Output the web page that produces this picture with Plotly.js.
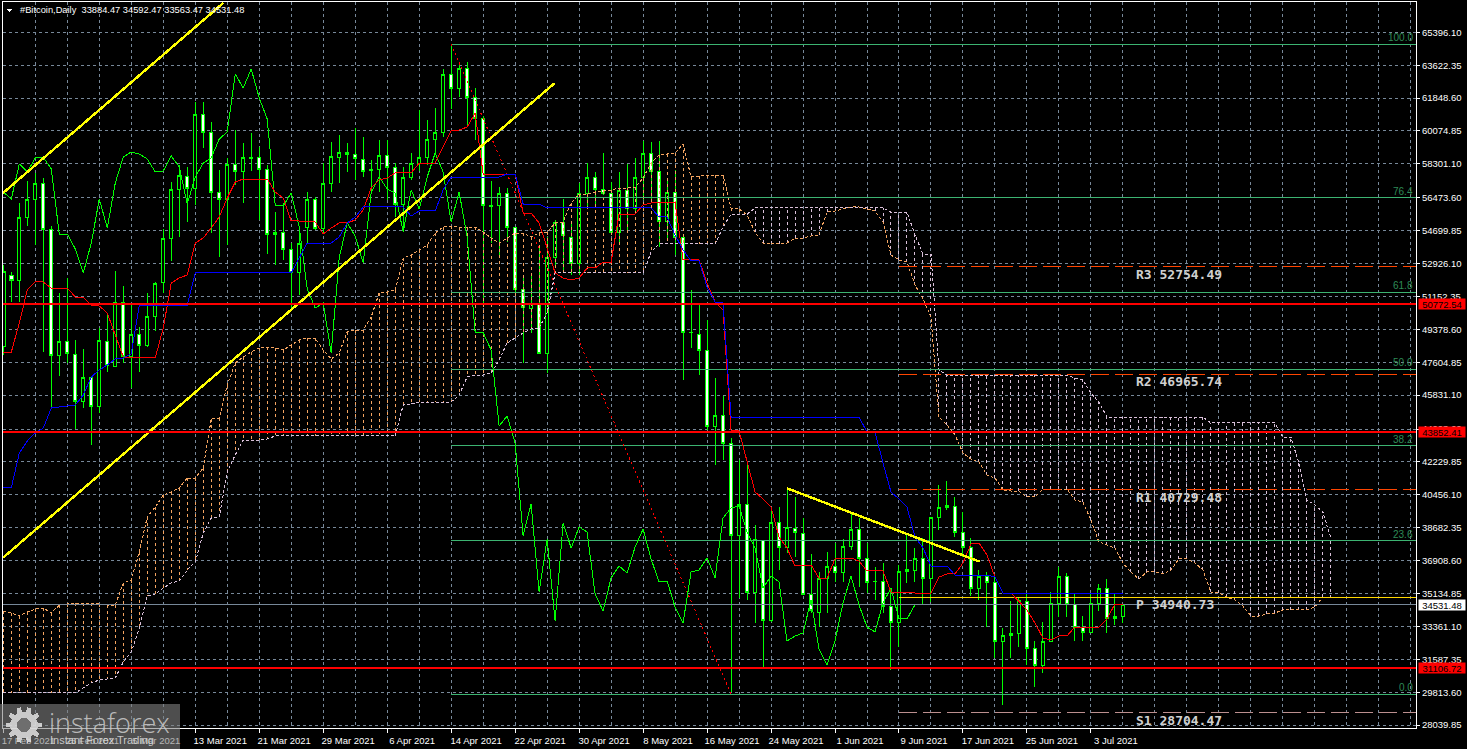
<!DOCTYPE html>
<html>
<head>
<meta charset="utf-8">
<title>#Bitcoin, Daily</title>
<script src="https://cdn.plot.ly/plotly-3.0.1.min.js"></script>
<style>html,body{margin:0;padding:0;background:#000;overflow:hidden}#chart{width:1467px;height:749px}#chart svg path{shape-rendering:crispEdges}</style>
</head>
<body>
<div id="chart"></div>
<script>
const opens = [48428,52310,51987,55384,56408,57270,54790,47943,48751,47997,
45516,46810,45246,48751,47403,50854,47889,49075,48535,50046,
51879,54305,56947,57648,57001,60991,60020,56785,56408,58295,
57864,58600,58619,58025,54628,54628,53712,52418,54898,56408,
54844,57270,58619,58942,58834,58511,58025,57972,58727,58133,
56138,57594,58349,58619,59643,60020,63148,62393,63418,61854,
60722,56084,56084,56731,54898,51555,50477,50800,48104,53227,
55114,54359,52957,56731,57594,56947,56731,54628,56893,55869,
57594,58888,57864,55168,56785,54359,49236,49128,48266,44168,
44708,43251,38237,39962,35217,38021,33654,38938,37590,38668,
38398,35109,34139,35972,36619,36242,37644,38614,36997,35780,
35810,34409,33546,36296,36350,37050,35972,39208,39747,39801,
38452,37590,35433,36080,35756,32575,32845,33006,34732,32144,
31281,32575,34624,36080,34517,33330,33060,34624,35433,33870,
33884.47];
const highs = [52850,52472,56192,57378,57810,57540,54952,51340,52148,48805,
48320,46810,49452,50153,52526,51717,50800,49506,51340,51933,
54790,57324,58241,58133,61638,61638,60560,57972,58619,60128,
59427,59966,59212,58241,55707,56192,54035,54574,56785,56516,
58349,59481,59858,59427,60236,59750,58511,59589,59589,58349,
58133,58888,61207,60668,61315,63418,64712,63742,63796,62393,
60883,57378,57055,57001,54898,52202,52418,53820,54359,55276,
56408,55222,57270,58349,57864,58888,57324,57864,58295,58619,
59535,59481,59535,57540,57972,54359,51501,50692,49884,46756,
45786,43521,42335,42173,38830,38021,39801,39801,40825,40340,
39208,37266,36296,37374,37860,38075,39477,39208,37860,36565,
36781,35433,36673,38290,37590,38129,39262,40986,41202,40340,
39531,38129,36404,36296,36026,33276,34732,34894,35163,32575,
33600,35217,36565,36242,35163,33924,35163,35649,35918,35163,
34592.47];
const lows = [47997,50854,50854,54952,53928,48158,45139,46864,47565,44006,
45139,43144,44870,47080,47349,47565,46217,47080,48428,49290,
51340,53065,54359,55168,56084,59158,54574,53280,53928,57162,
56192,57918,55276,53442,52850,53119,50423,51231,54035,54736,
54574,56785,57270,57864,57432,57594,56785,56785,56354,55438,
54736,57432,57918,58241,58888,59750,61261,61908,60398,59589,
50692,54035,53388,54089,51394,47565,49182,48050,47026,52688,
52418,52310,52310,55923,55923,56623,54574,54035,54574,55653,
56354,56354,53820,54197,53388,46648,48374,46918,43952,42065,
42335,29825,34894,34786,33546,31173,33600,36404,37320,37104,
35055,34085,33330,34085,35756,35756,37482,35487,35163,34786,
34085,31012,32252,35702,35756,34570,34678,38560,39639,38183,
37104,35002,34786,33330,31659,29125,31659,32252,31281,30094,
30850,32575,33870,33870,32575,32575,33006,34193,33006,33438,
33563.47];
const closes = [52472,51987,55384,56408,57270,54790,47943,48751,48104,45516,
46810,45246,48805,47457,50854,47889,49075,48535,50046,51825,
54305,56947,57702,57001,60991,60020,56785,56408,58295,57864,
58619,58660,58025,54520,54520,53712,52418,54035,56408,54844,
57270,58673,58942,58834,58565,57864,57918,58727,58133,56138,
57594,58349,58619,59643,60020,63148,62393,63418,61854,60722,
56084,56030,56731,54898,51555,50531,50800,48104,53227,55114,
54413,52957,56731,57594,56947,56731,54628,56893,55869,57594,
58888,57864,55168,56785,54359,49236,49200,48266,44168,44708,
43251,38237,39962,35217,38075,33654,38938,37590,38722,38452,
35109,34193,35972,36619,36242,37644,38614,36997,35756,35810,
34409,33546,36296,36404,37050,35972,39208,39747,39855,38452,
37590,35433,36080,35756,32575,32845,33006,34786,32144,31281,
32575,34624,36080,34517,33330,33060,34624,35433,33762,33762,
34531.48];

const tenkan = [48158,48158,49722,51501,51933,51933,51609,51609,51609,51123,
51123,50692,50638,50261,49075,47889,47835,47835,47835,47835,
49452,51879,52148,52310,54035,54305,54844,55438,56462,57324,
57486,57486,57486,57486,56785,56462,55222,55222,55168,55168,
54520,54844,55114,55114,55276,55815,57001,57432,57540,57810,
57810,57810,58349,58349,58349,59212,60075,60128,60290,61045,
57756,57756,57756,57756,57756,55653,55653,55114,53820,52418,
52148,52040,52148,52688,52688,53011,53011,55599,55599,55599,
56084,56192,56246,56246,56246,53119,53119,53119,51879,50854,
50423,43899,43899,42173,40610,40232,39801,38183,37590,36619,
36673,36673,35972,35972,36997,37050,37050,36889,36350,36350,
36350,35217,35217,35217,35163,35109,35163,36026,36188,36188,
36781,37806,37860,37213,36026,35163,35163,34678,34247,33546,
32737,32629,32845,32845,33330,33330,33330,33330,33762,34570,
34570];
const kijun = [40840,40840,42712,43360,43790,44060,45139,45193,45246,45300,
45840,46810,47188,47457,47781,47835,48050,50692,50692,50692,
50692,50692,50692,50692,52418,52418,52418,52418,52418,52418,
52418,52418,52418,52418,52418,52418,52418,53227,54035,54035,
54035,54035,54359,55114,55438,55977,55977,55977,55977,55977,
55977,55491,55761,55761,55761,56893,57594,57594,57594,57594,
57594,57594,57594,57756,57756,56138,56138,56138,55923,55923,
55923,55923,55923,55923,55923,55923,55923,55923,55923,55923,
55923,55923,55438,55438,54467,53658,53065,53065,51663,50854,
50800,44653,44653,44653,44653,44653,44653,44653,44653,44653,
44653,44653,44653,44653,44653,44653,44653,44653,43844,43844,
42173,40610,40232,39801,38183,37590,36619,36619,36619,36134,
36134,36134,36134,36134,36026,35163,35163,35163,35163,35163,
35163,35163,35163,35163,35163,35163,35163,35163,35163,35163,
35163];
const spanA = [34193,34085,33923,34139,34301,34355,34085,34516,34570,34624,
34624,34624,34570,34516,34516,35703,35864,37374,39261,39801,
40448,40610,40825,41364,41364,41903,44545,44599,46379,47565,
47889,48158,48374,48428,48374,48266,48535,48805,48913,48913,
48266,47781,48104,49236,49344,49344,50046,51340,51393,51501,
53227,53388,53658,53928,54574,54898,54952,54898,54898,54898,
54628,54305,54035,54305,54574,54574,54359,54574,54628,55114,
55168,56192,56677,56677,56785,56839,56893,57001,57001,57055,
57540,58349,58780,58834,58888,59373,57594,57648,57702,57702,
57702,55923,55869,55545,54628,54035,53982,53982,54035,54305,
54305,54413,54467,55707,55761,55869,55977,55977,55869,55761,
55168,53388,53119,53011,51771,51016,50046,44653,44222,43683,
42712,42389,42227,41526,41364,40717,40663,40663,40340,40340,
40771,40771,40771,40771,40178,40070,39100,37913,37752,37590,
36781,36296,35918,36296,36296,36188,36404,36997,36997,36781,
36404,35217,35163,34948,34786,34462,33923,33923,34031,34085,
34247,34247,34247,34247,34409,34948,34894];
const spanB = [29772,29772,29772,29772,29772,29772,29772,29772,29772,29772,
30041,30311,30472,30526,30580,31443,31982,33276,35002,35109,
35433,35703,35810,36404,36835,38398,39208,39261,41688,42605,
43413,43413,43413,43467,43629,43629,43629,43629,43629,43629,
43629,43629,43629,43629,43629,43629,43629,43629,43629,43629,
45300,45354,45462,45462,45462,45462,45462,45840,46810,46918,
46918,47026,47727,48643,48913,49182,49398,49452,50261,52418,
52418,52418,52418,52418,52418,52418,52418,52418,52418,52418,
52418,53550,53982,53982,53982,53982,53982,53982,53982,53982,
54898,55599,55599,55599,55923,55923,55923,55923,55923,55923,
55923,55923,55923,55923,55923,55923,55923,55923,55923,55923,
55923,55707,55707,55707,54467,53442,53442,47188,46918,46918,
46918,46918,46918,46918,46918,46918,46918,46918,46918,46918,
46918,46918,46918,46918,46756,46648,45947,45462,44653,44653,
44653,44653,44653,44653,44653,44653,44653,44653,44653,44653,
44653,44330,44330,44330,44330,44330,44330,44330,44330,44330,
43575,43575,42173,40178,39909,39531,38129];

const priceTicks = ['65396.10','63622.35','61848.60','60074.85','58301.10','56473.60','54699.85','52926.10','51152.35','49378.60','47604.85','45831.10','44003.60','42229.85','40456.10','38682.35','36908.60','35134.85','33361.10','31587.35','29813.60','28039.85'];
const dateLabels = ['17 Feb 2021','25 Feb 2021','5 Mar 2021','13 Mar 2021','21 Mar 2021','29 Mar 2021','6 Apr 2021','14 Apr 2021','22 Apr 2021','30 Apr 2021','8 May 2021','16 May 2021','24 May 2021','1 Jun 2021','9 Jun 2021','17 Jun 2021','25 Jun 2021','3 Jul 2021'];
const dateLabelDays = [0,8,16,24,32,40,48,56,64,72,80,88,96,104,112,120,128,136];

const redLevels = [50772.54, 43852.41, 31106.72];
const lastPrice = 34531.48;
const pivotNames = ['R3','R2','R1','P','S1'];
const pivotValues = [52754.49, 46965.74, 40729.48, 34940.73, 28704.47];
const pivotColors = ['#FF4500','#FF4500','#FF4500','#FFD700','#BC8F8F'];
const fibNames = ['100.0','76.4','61.8','50.0','38.2','23.6','0.0'];
const fibValues = [64750, 56483, 51367, 47233, 43100, 37985, 29717];
const trendDays = [[-0.04,27.5],[-0.04,68.96],[98,122.1]];
const trendPrices = [[56731,66976],[37066,62663],[40809,36851]];
const fibDiagDays = [56, 91];
const fibDiagPrices = [64750, 29717];
const pivotStartDay = 112, fibStartDay = 56;
const leftDay = -0.04, rightDay = 176.65;

function dayToDate(k){ return new Date(Date.UTC(2021,1,17) + k*86400000).toISOString().slice(0,19).replace('T',' '); }
const dates = opens.map((_,k)=>dayToDate(k));
const days = n => Array.from({length:n},(_,k)=>dayToDate(k));

const W=1467,H=749,L=3,R=1416.5,T=2,B=728;
const px = x => (x-L)/(R-L);
const py = y => (B-y)/(B-T);

const SAND='#F4A460', THIS='#D8BFD8', LIME='#00FF00', GRID='#778899';
const traces = [];
function line(x,y,color,width,dash,name){ traces.push({type:'scatter',mode:'lines',x,y,name,hoverinfo:'skip',line:{color,width,dash:dash||'solid'},connectgaps:false}); }

traces.push({type:'candlestick',name:'#Bitcoin',x:dates,open:opens,high:highs,low:lows,close:closes,whiskerwidth:0,hoverinfo:'skip',
  increasing:{line:{color:LIME,width:1},fillcolor:'#000000'},
  decreasing:{line:{color:LIME,width:1},fillcolor:'#FFFFFF'}});

const hs={x:[],y:[]}, ht={x:[],y:[]};
spanA.forEach((a,k)=>{ const t=a>=spanB[k]?hs:ht; t.x.push(dayToDate(k),dayToDate(k),null); t.y.push(a,spanB[k],null); });
line(hs.x,hs.y,SAND,1,'3px,3px','Kumo A');
line(ht.x,ht.y,THIS,1,'3px,3px','Kumo B');
line(days(spanA.length),spanA,SAND,1,'3px,2px','Senkou A');
line(days(spanB.length),spanB,THIS,1,'3px,2px','Senkou B');

fibValues.forEach((v,i)=>line([dayToDate(fibStartDay),dayToDate(rightDay)],[v,v],'#3CB371',1,'solid','Fibo '+fibNames[i]));
line(fibDiagDays.map(dayToDate),fibDiagPrices,'#FF0000',1,'2px,3px','Fibo trend');
line([dayToDate(leftDay),dayToDate(rightDay)],[lastPrice,lastPrice],GRID,1,'solid','Last');
pivotValues.forEach((v,i)=>line([dayToDate(pivotStartDay),dayToDate(rightDay)],[v,v],pivotColors[i],1,pivotNames[i]==='P'?'solid':'18px,6px',pivotNames[i]));

const chikou = closes.slice(26);
line(days(chikou.length),chikou,LIME,1,'solid','Chikou');
line(days(tenkan.length),tenkan,'#FF0000',1,'solid','Tenkan');
line(days(kijun.length),kijun,'#0000FF',1,'solid','Kijun');

trendDays.forEach((d,i)=>line(d.map(dayToDate),trendPrices[i],'#FFFF00',2.4,'solid','Trend '+(i+1)));
redLevels.forEach(v=>line([dayToDate(leftDay),dayToDate(rightDay)],[v,v],'#FF0000',2,'solid','Level'));

const ann=[];
const FONT='"Liberation Sans", Arial, sans-serif';
const FS=9.5;
pivotValues.forEach((v,i)=>ann.push({xref:'x',yref:'y',x:dayToDate(141.4),y:v,yshift:-7.5,xanchor:'left',yanchor:'middle',showarrow:false,
  text:pivotNames[i]+' '+v.toFixed(2),font:{family:'"DejaVu Sans Mono", monospace',size:13,color:'#D0D0D0',weight:'bold'}}));
fibValues.forEach((v,i)=>ann.push({xref:'paper',yref:'y',x:1,xshift:-1,y:v,yanchor:'bottom',xanchor:'right',yshift:-1,showarrow:false,
  text:fibNames[i],font:{family:FONT,size:10,color:'#2E8B57'}}));
function box(v,bg){ ann.push({xref:'paper',yref:'y',x:1,xshift:1.5,y:v,xanchor:'left',yanchor:'middle',showarrow:false,width:46,height:10,borderpad:0,bgcolor:bg,
  text:v.toFixed(2),align:'center',font:{family:FONT,size:FS,color:'#000'}}); }
redLevels.forEach(v=>box(v,'#FF0000'));
box(lastPrice,'#FFFFFF');
ann.push({xref:'paper',yref:'paper',x:px(18),y:py(10.5),xanchor:'left',yanchor:'middle',showarrow:false,
  text:'#Bitcoin,Daily&nbsp;&nbsp;33884.47 34592.47 33563.47 34531.48',font:{family:FONT,size:9.3,color:'#FFFFFF'}});
ann.push({xref:'paper',yref:'paper',x:px(47),y:py(722),xanchor:'left',yanchor:'middle',showarrow:false,text:'instaforex',
  font:{family:'"Open Sans"',size:27,color:'rgba(205,205,205,0.85)',weight:300}});
ann.push({xref:'paper',yref:'paper',x:px(48),y:py(740),xanchor:'left',yanchor:'middle',showarrow:false,text:'Instant Forex Trading',
  font:{family:'"Liberation Sans"',size:11,color:'rgba(215,215,215,0.9)'}});

const gearPts=[]; const gx=24,gy=725,teeth=10;
for(let i=0;i<teeth;i++){
  const a=i*2*Math.PI/teeth, s=0.17;
  [[a-s*1.15,13.5],[a-s*0.7,18],[a+s*0.7,18],[a+s*1.15,13.5]].forEach(([t,r])=>gearPts.push([gx+r*Math.cos(t),gy+r*Math.sin(t)]));
}
const gearPath='M '+gearPts.map(p=>px(p[0])+' '+py(p[1])).join(' L ')+' Z';

const shapes=[
 {type:'rect',xref:'paper',yref:'paper',x0:px(0),x1:px(180),y0:py(704),y1:py(749),line:{width:0},fillcolor:'rgba(130,130,130,0.6)',layer:'above'},
 {type:'path',xref:'paper',yref:'paper',path:gearPath,fillcolor:'rgba(225,225,225,0.85)',line:{width:0},layer:'above'},
 {type:'circle',xref:'paper',yref:'paper',x0:px(gx-7),x1:px(gx+7),y0:py(gy+7),y1:py(gy-7),fillcolor:'#6e6e6e',line:{width:0},layer:'above'},
 {type:'path',xref:'paper',yref:'paper',path:`M ${px(6.5)} ${py(9)} L ${px(12.5)} ${py(9)} L ${px(9.5)} ${py(12.5)} Z`,fillcolor:'#FFFFFF',line:{width:0},layer:'above'}
];

const layout={
 width:W,height:H,autosize:false,showlegend:false,dragmode:false,hovermode:false,
 paper_bgcolor:'#000',plot_bgcolor:'#000',boxgap:0.4,
 margin:{l:L,r:W-R,t:T,b:H-B,pad:0},
 font:{family:FONT,size:FS,color:'#FFFFFF'},
 xaxis:{type:'date',range:[dayToDate(leftDay),dayToDate(rightDay)],rangeslider:{visible:false},
  tickmode:'array',tickvals:dateLabelDays.map(dayToDate),ticktext:dateLabels,tickangle:0,ticklabelshift:25,ticklabeloverflow:'allow',
  ticks:'outside',ticklen:4,tickcolor:'#FFFFFF',tickfont:{family:FONT,size:FS,color:'#FFFFFF'},
  showgrid:true,gridcolor:GRID,griddash:'3px,3px',gridwidth:1,
  minor:{tickmode:'linear',tick0:dayToDate(0),dtick:4*86400000,showgrid:true,gridcolor:GRID,griddash:'3px,3px',gridwidth:1,ticks:''},
  showline:true,linecolor:'#FFFFFF',linewidth:1,mirror:true,zeroline:false,fixedrange:true},
 yaxis:{side:'right',type:'linear',range:[27884,67030],tickmode:'array',tickvals:priceTicks.map(Number),ticktext:priceTicks,
  ticks:'outside',ticklen:3,tickcolor:'#FFFFFF',tickfont:{family:FONT,size:FS,color:'#FFFFFF'},
  showgrid:true,gridcolor:GRID,griddash:'3px,3px',gridwidth:1,
  showline:true,linecolor:'#FFFFFF',linewidth:1,mirror:true,zeroline:false,fixedrange:true},
 annotations:ann,shapes
};
Plotly.newPlot('chart',traces,layout,{displayModeBar:false,staticPlot:true});
</script>
</body>
</html>
